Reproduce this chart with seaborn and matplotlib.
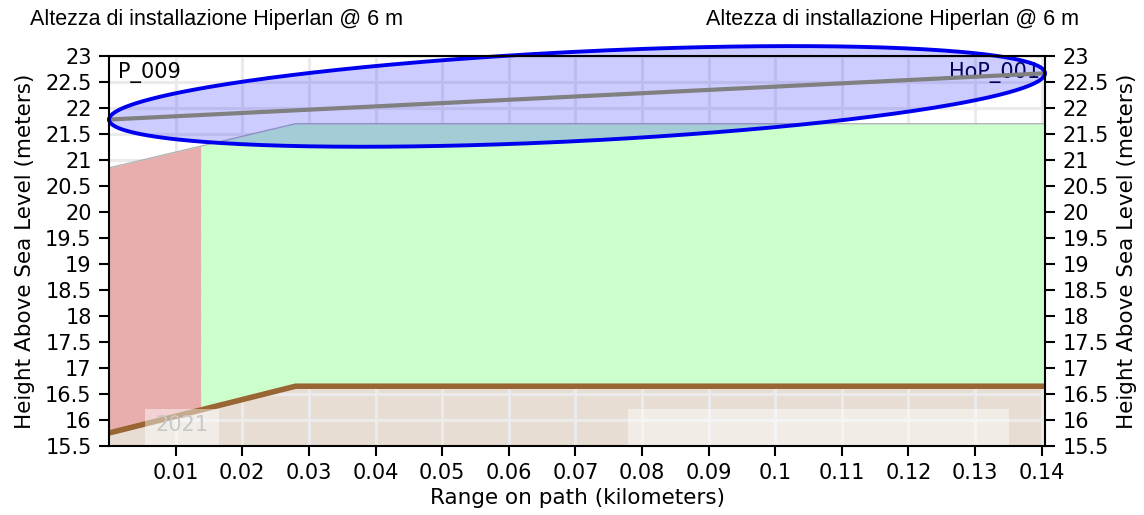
import numpy as np
import matplotlib
matplotlib.use("Agg")
import matplotlib.pyplot as plt
import seaborn as sns
from matplotlib.patches import Rectangle

# ---- data ----
terrain_x = [0.0, 0.028, 0.1405]          # km
terrain_y = [15.75, 16.65, 16.65]         # m
clear_top_y = [20.85, 21.70, 21.70]       # terrain + clearance
obstruct_end_x = 0.0138                   # red (obstructed) part ends here
link_x = [0.0, 0.1405]
link_y = [21.78, 22.67]
fresnel_half = 0.86                       # vertical half-width of Fresnel zone (m)
x_ticks = [0.01, 0.02, 0.03, 0.04, 0.05, 0.06, 0.07, 0.08, 0.09, 0.10, 0.11, 0.12, 0.13, 0.14]
y_ticks = [15.5, 16, 16.5, 17, 17.5, 18, 18.5, 19, 19.5, 20, 20.5, 21, 21.5, 22, 22.5, 23]
title_text = "Altezza di installazione Hiperlan @ 6 m"
site_a = "P_009"
site_b = "HoP_001"
year_text = "2021"

sns.set_style("white", rc={"text.color": "black", "axes.labelcolor": "black",
                           "xtick.color": "black", "ytick.color": "black"})
plt.rcParams['font.family'] = ['DejaVu Sans']

fig = plt.figure(figsize=(11.44, 5.15), dpi=100)
ax = fig.add_axes([0.0953, 0.134, 0.8182, 0.757])

ax.set_xlim(0, 0.1405)
ax.set_ylim(15.5, 23)

# ground fill (below terrain)
ax.fill_between(terrain_x, 15.5, terrain_y, color="#8c5523", alpha=0.2, lw=0, zorder=0.2)

# grid (axis drawn at zorder 0.5: above ground, below clearance areas)
ax.set_xticks(x_ticks)
ax.set_yticks(y_ticks)
ax.set_axisbelow(True)
ax.grid(True, color="#ebebeb", lw=2.2)

# clearance / obstruction areas
tx = np.array(terrain_x); ty = np.array(terrain_y); cy = np.array(clear_top_y)
xr = np.array([0.0, obstruct_end_x])
ax.fill_between(xr, np.interp(xr, tx, ty), np.interp(xr, tx, cy),
                color="#e8aeae", lw=0, zorder=2)
xg = np.concatenate([[obstruct_end_x], tx[tx > obstruct_end_x]])
ax.fill_between(xg, np.interp(xg, tx, ty), np.interp(xg, tx, cy),
                color="#ccffcc", lw=0, zorder=2)
ax.plot(tx, cy, color="#b4b4b4", lw=1, zorder=2.1)

# terrain line
sns.lineplot(x=terrain_x, y=terrain_y, ax=ax, color="#996633", lw=4, zorder=2.5)

# watermark boxes
ax.add_patch(Rectangle((0.038, 0.0), 0.080, 0.095, transform=ax.transAxes,
                       fc="white", ec="none", alpha=0.45, zorder=2.6))
ax.text(0.078, 0.055, year_text, transform=ax.transAxes, color="#c8c8c8", fontsize=15,
        ha="center", va="center", zorder=2.65)
ax.add_patch(Rectangle((0.5545, 0.0), 0.407, 0.095, transform=ax.transAxes,
                       fc="white", ec="none", alpha=0.45, zorder=2.6))

# site labels
ax.text(0.01, 0.985, site_a, transform=ax.transAxes, ha="left", va="top", fontsize=15, zorder=2.7)
ax.text(0.995, 0.985, site_b, transform=ax.transAxes, ha="right", va="top", fontsize=15,
        color="#000033", zorder=2.7)

# Fresnel zone ellipse
th = np.linspace(0, 2 * np.pi, 400)
cx = (link_x[0] + link_x[1]) / 2
cyy = (link_y[0] + link_y[1]) / 2
ex = cx - (link_x[1] - link_x[0]) / 2 * np.cos(th)
ey = cyy - (link_y[1] - link_y[0]) / 2 * np.cos(th) + fresnel_half * np.sin(th)
ax.fill(ex, ey, color=(0, 0, 1, 0.2), lw=0, zorder=3, clip_on=False)
ax.plot(ex, ey, color="#0000ee", lw=2.8, zorder=3.2, clip_on=False)
sns.lineplot(x=link_x, y=link_y, ax=ax, color="gray", lw=3, zorder=3.1)

# axes styling
for s in ax.spines.values():
    s.set_color("black"); s.set_linewidth(1.5); s.set_zorder(4)
ax.tick_params(axis="both", direction="out", length=7.5, width=1.5, pad=5, labelsize=15,
               left=True, bottom=True, color="black", labelcolor="black")
ax.set_xticklabels([f"{v:g}" for v in x_ticks])
ax.set_yticklabels([f"{v:g}" for v in y_ticks])
ax.set_xlabel("Range on path (kilometers)", fontsize=15.5, labelpad=3)
ax.set_ylabel("Height Above Sea Level (meters)", fontsize=15.5, labelpad=7)

ax2 = ax.twinx()
ax2.set_ylim(ax.get_ylim())
ax2.set_yticks(y_ticks)
ax2.set_yticklabels([f"{v:g}" for v in y_ticks])
ax2.tick_params(axis="y", direction="out", length=7.5, width=1.5, pad=5, labelsize=15, right=True,
                color="black", labelcolor="black")
ax2.set_ylabel("Height Above Sea Level (meters)", fontsize=15.5, rotation=90, labelpad=6)
for s in ax2.spines.values():
    s.set_visible(False)

fig.text(0.026, 0.963, title_text, fontsize=15.5, family=["Liberation Sans"], ha="left", va="center")
fig.text(0.943, 0.963, title_text, fontsize=15.5, family=["Liberation Sans"], ha="right", va="center")

fig.savefig("out.png", dpi=100)
